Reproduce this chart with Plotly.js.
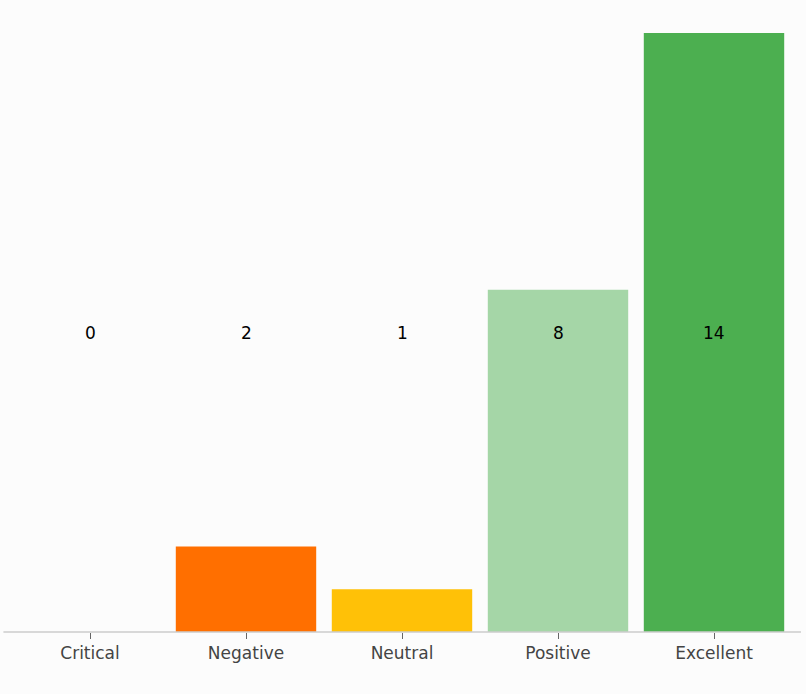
<!doctype html>
<html lang="en">
<head>
<meta charset="UTF-8">
<title>Ratings</title>
<script src="https://cdn.plot.ly/plotly-3.0.1.min.js"></script>
<style>
  body { margin: 0; background: #fcfcfc; }
  #chart { width: 806px; height: 694px; }
</style>
</head>
<body>
<div id="chart"></div>
<script>
  var categories = ['Critical', 'Negative', 'Neutral', 'Positive', 'Excellent'];
  var counts = [0, 2, 1, 8, 14];
  var colors = ['#d32f2f', '#ff6f00', '#ffc107', '#a5d6a7', '#4caf50'];

  var maxCount = Math.max.apply(null, counts);

  // value labels sit at a fixed height, halfway up the axis
  var labels = categories.map(function (c, i) {
    return {
      x: c, y: maxCount / 2, xref: 'x', yref: 'y',
      text: String(counts[i]), showarrow: false,
      font: { family: 'DejaVu Sans', size: 17, color: '#000' }
    };
  });

  var layout = {
    width: 806, height: 694,
    margin: { l: 12, r: 14, t: 33, b: 62 },
    paper_bgcolor: '#fcfcfc',
    plot_bgcolor: '#fcfcfc',
    bargap: 0.1,
    showlegend: false,
    font: { family: 'DejaVu Sans', size: 17, color: '#444' },
    xaxis: {
      ticks: 'outside', ticklen: 6, tickcolor: '#666',
      showline: false, showgrid: false, zeroline: false
    },
    yaxis: {
      range: [0, maxCount], visible: false, showgrid: false, zeroline: false
    },
    shapes: [{
      type: 'line', xref: 'paper', yref: 'paper',
      x0: -0.011, x1: 1.0115, y0: 0, y1: 0,
      line: { color: '#ccc', width: 1.5 }
    }],
    annotations: labels
  };

  Plotly.newPlot('chart', [{
    type: 'bar', x: categories, y: counts,
    marker: { color: colors }, hoverinfo: 'x+y'
  }], layout, { displayModeBar: false, staticPlot: true });
</script>
</body>
</html>
